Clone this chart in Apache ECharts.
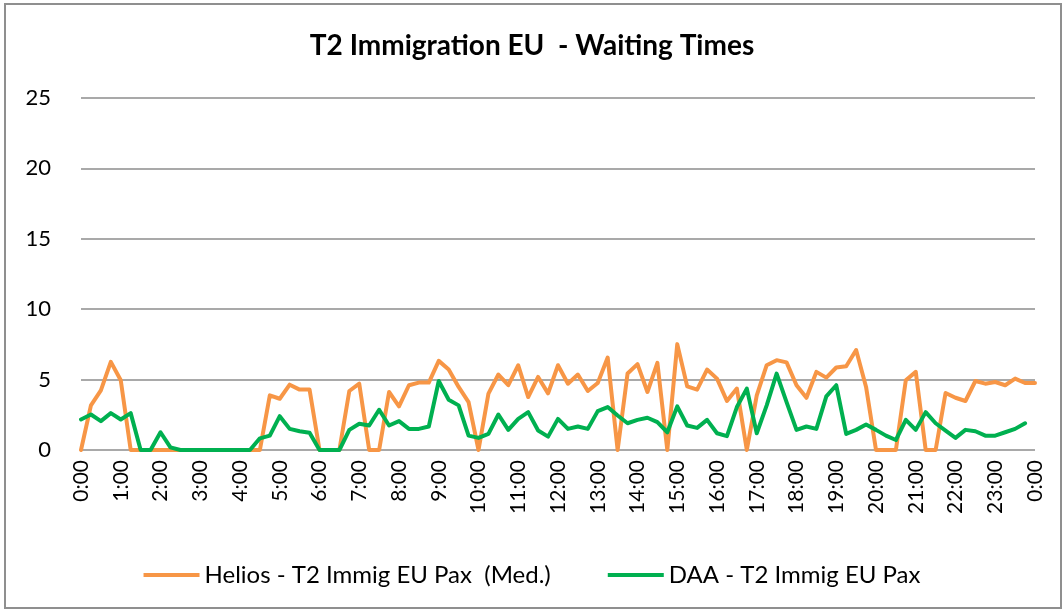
<!DOCTYPE html>
<html>
<head>
<meta charset="utf-8">
<title>T2 Immigration EU - Waiting Times</title>
<script src="https://cdn.jsdelivr.net/npm/echarts@6/dist/echarts.min.js"></script>
<style>
  html, body { margin: 0; padding: 0; background: #fff; }
  #main { width: 1064px; height: 610px; }
</style>
</head>
<body>
<div id="main"></div>
<script>
// 15 minute slots, 0:00 .. 0:00 next day
const times = [
  '0:00','0:15','0:30','0:45','1:00','1:15','1:30','1:45',
  '2:00','2:15','2:30','2:45','3:00','3:15','3:30','3:45',
  '4:00','4:15','4:30','4:45','5:00','5:15','5:30','5:45',
  '6:00','6:15','6:30','6:45','7:00','7:15','7:30','7:45',
  '8:00','8:15','8:30','8:45','9:00','9:15','9:30','9:45',
  '10:00','10:15','10:30','10:45','11:00','11:15','11:30','11:45',
  '12:00','12:15','12:30','12:45','13:00','13:15','13:30','13:45',
  '14:00','14:15','14:30','14:45','15:00','15:15','15:30','15:45',
  '16:00','16:15','16:30','16:45','17:00','17:15','17:30','17:45',
  '18:00','18:15','18:30','18:45','19:00','19:15','19:30','19:45',
  '20:00','20:15','20:30','20:45','21:00','21:15','21:30','21:45',
  '22:00','22:15','22:30','22:45','23:00','23:15','23:30','23:45',
  '0:00'
];

// Helios - T2 Immig EU Pax (Med.)
const helios = [
  0, 3.17, 4.24, 6.26, 4.95, 0, 0, 0,
  0, 0, 0, 0, 0, 0, 0, 0,
  0, 0, 0, 3.88, 3.64, 4.64, 4.29, 4.29,
  0, 0, 0, 4.19, 4.71, 0, 0, 4.12,
  3.1, 4.6, 4.79, 4.79, 6.33, 5.71, 4.48, 3.4,
  0, 4.0, 5.36, 4.6, 6.02, 3.76, 5.19, 4.02,
  6.02, 4.71, 5.36, 4.19, 4.76, 6.57, 0, 5.43,
  6.1, 4.12, 6.19, 0, 7.52, 4.52, 4.29, 5.71,
  5.07, 3.48, 4.36, 0, 3.88, 6.02, 6.38, 6.22,
  4.6, 3.71, 5.55, 5.14, 5.86, 5.95, 7.1, 4.48,
  0, 0, 0, 4.95, 5.55, 0, 0, 4.05,
  3.71, 3.48, 4.9, 4.71, 4.83, 4.6, 5.07, 4.76,
  4.76
];

// DAA - T2 Immig EU Pax
const daa = [
  2.17, 2.52, 2.05, 2.62, 2.17, 2.62, 0, 0,
  1.26, 0.19, 0, 0, 0, 0, 0, 0,
  0, 0, 0.83, 1.02, 2.4, 1.5, 1.33, 1.22,
  0, 0, 0, 1.43, 1.86, 1.74, 2.86, 1.74,
  2.05, 1.5, 1.5, 1.67, 4.9, 3.57, 3.17, 1.02,
  0.86, 1.14, 2.52, 1.43, 2.21, 2.69, 1.38, 0.95,
  2.21, 1.5, 1.67, 1.5, 2.76, 3.05, 2.45, 1.9,
  2.14, 2.29, 1.98, 1.26, 3.1, 1.74, 1.57, 2.14,
  1.19, 0.98, 3.05, 4.36, 1.19, 3.17, 5.43, 3.4,
  1.43, 1.67, 1.5, 3.81, 4.6, 1.14, 1.43, 1.81,
  1.43, 1.02, 0.71, 2.14, 1.43, 2.69, 1.9, 1.38,
  0.86, 1.43, 1.33, 1.02, 1.02, 1.26, 1.5, 1.9,
  null
];

const yTicks = [0, 5, 10, 15, 20, 25];

const FONT = 'Lato';
const chart = echarts.init(document.getElementById('main'));

chart.setOption({
  backgroundColor: '#fff',
  animation: false,
  title: {
    text: 'T2 Immigration EU  - Waiting Times',
    left: 'center',
    top: 27,
    textStyle: { fontFamily: FONT, fontSize: 28, fontWeight: 'bold', color: '#000' }
  },
  legend: {
    top: 558,
    left: 'center',
    icon: 'rect',
    itemWidth: 56,
    itemHeight: 4,
    itemGap: 57,
    textStyle: { fontFamily: FONT, fontSize: 24, color: '#000' },
    data: ['Helios - T2 Immig EU Pax  (Med.)', 'DAA - T2 Immig EU Pax']
  },
  grid: {
    left: 81, right: 29, top: 98, bottom: 160,
    containLabel: false,
    outerBoundsMode: 'none'
  },
  xAxis: {
    type: 'category',
    boundaryGap: false,
    data: times,
    axisLine: { show: false },
    axisTick: { show: false },
    axisLabel: {
      interval: 3,
      rotate: 90,
      margin: 10,
      fontFamily: FONT,
      fontSize: 21,
      color: '#000'
    },
    splitLine: { show: false }
  },
  yAxis: {
    type: 'value',
    min: yTicks[0],
    max: yTicks[yTicks.length - 1],
    interval: 5,
    axisLine: { show: false },
    axisTick: { show: false },
    axisLabel: { margin: 30, fontFamily: FONT, fontSize: 22, color: '#000' },
    splitLine: { lineStyle: { color: '#8c8c8c', width: 1.5 } }
  },
  graphic: [{
    type: 'rect',
    shape: { x: 5, y: 4, width: 1056, height: 604 },
    style: { fill: 'none', stroke: '#8f8f8f', lineWidth: 2 },
    silent: true
  }],
  series: [
    {
      name: 'Helios - T2 Immig EU Pax  (Med.)',
      type: 'line',
      data: helios,
      symbol: 'none',
      color: '#F79646',
      lineStyle: { width: 4, color: '#F79646', cap: 'round', join: 'round' }
    },
    {
      name: 'DAA - T2 Immig EU Pax',
      type: 'line',
      data: daa,
      symbol: 'none',
      color: '#00B050',
      lineStyle: { width: 4, color: '#00B050', cap: 'round', join: 'round' }
    }
  ]
});
</script>
</body>
</html>
